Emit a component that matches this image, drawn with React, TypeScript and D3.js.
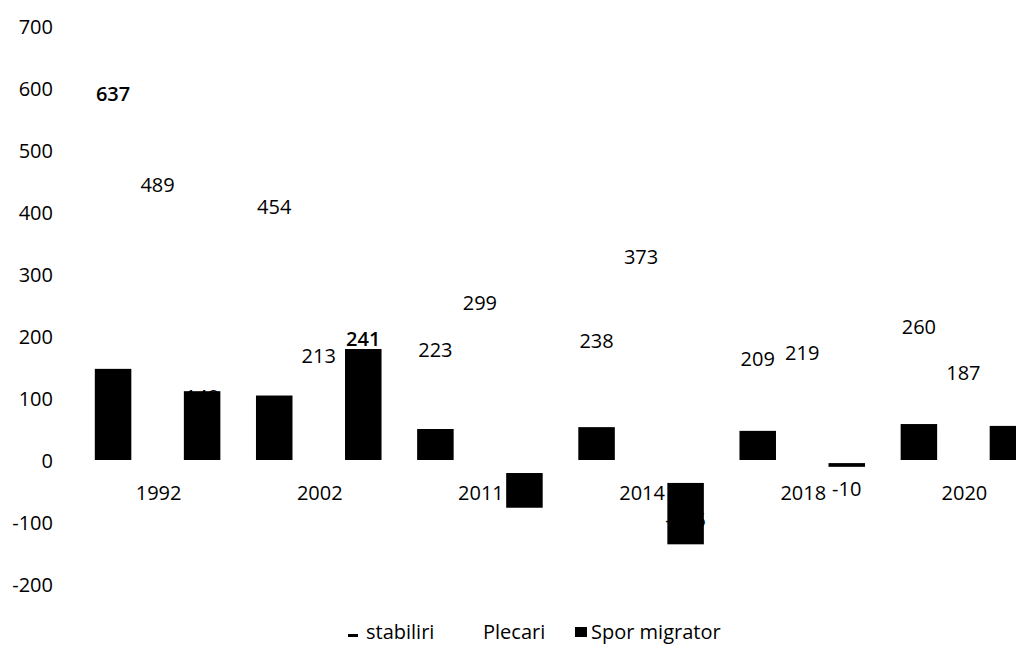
import React from 'react';
import * as d3 from 'd3';

const categories = ['1992', '2002', '2011', '2014', '2018', '2020'];
const stabiliri = [637, 454, 223, 238, 209, 260];
const plecari = [489, 213, 299, 373, 219, 187];
const sporMigrator = [148, 241, -76, -135, -10, 73];
// bar extents as they appear drawn in the picture
const stabiliriBar = [147, 104, 50, 53, 47, 58];
const sporBarFrom = [0, 0, -21, -37, -5, 0];
const sporBarTo = [111, 179, -77, -136, -11, 55];
const yTicks = [-200, -100, 0, 100, 200, 300, 400, 500, 600, 700];
const seriesNames = ['stabiliri', 'Plecari', 'Spor migrator'];

const W = 1016;
const H = 648;
const FONT = "'Open Sans', sans-serif";

export default function App() {
  const x0 = d3.scaleBand<string>().domain(categories).range([77, 1044]).padding(0);
  const x1 = d3
    .scaleBand<string>()
    .domain(seriesNames)
    .range([0, x0.bandwidth()])
    .paddingInner(0.18)
    .paddingOuter(0.4);
  const y = d3.scaleLinear().domain([-200, 700]).range([584, 26]);
  const bw = x1.bandwidth();

  const cx = (cat: string, s: string) => (x0(cat) as number) + (x1(s) as number) + bw / 2;

  const labelY = (v: number) => {
    if (v >= 0) return y(v) + 28;
    return Math.abs(v) > 50 ? y(v) - 24 : y(v) + 22;
  };

  const maxStab = d3.max(stabiliri) as number;
  const maxSpor = d3.max(sporMigrator) as number;

  const labelSeries = [
    { name: 'stabiliri', values: stabiliri, max: maxStab },
    { name: 'Plecari', values: plecari, max: Infinity },
    { name: 'Spor migrator', values: sporMigrator, max: maxSpor },
  ];

  return (
    <svg
      width={W}
      height={H}
      style={{ position: 'absolute', left: 0, top: 0, background: '#fff' }}
      fontFamily={FONT}
    >
      <rect x={0} y={0} width={W} height={H} fill="#fff" />
      {/* y axis tick labels */}
      {yTicks.map((t) => (
        <text
          key={t}
          x={53}
          y={y(t)}
          textAnchor="end"
          dominantBaseline="central"
          fontSize={20}
          fill="#000"
        >
          {t}
        </text>
      ))}
      {/* category labels */}
      {categories.map((c) => (
        <text
          key={c}
          x={(x0(c) as number) + x0.bandwidth() / 2 + 1}
          y={492}
          textAnchor="middle"
          dominantBaseline="central"
          fontSize={20}
          fill="#000"
        >
          {c}
        </text>
      ))}
      {/* data labels */}
      {labelSeries.map((s) =>
        s.values.map((v, i) => (
          <text
            key={s.name + i}
            x={cx(categories[i], s.name)}
            y={labelY(v)}
            textAnchor="middle"
            dominantBaseline="central"
            fontSize={20}
            fontWeight={v === s.max ? 600 : 400}
            fill="#000"
          >
            {v}
          </text>
        ))
      )}
      {/* stabiliri bars */}
      {stabiliriBar.map((v, i) => (
        <rect
          key={'sb' + i}
          x={cx(categories[i], 'stabiliri') - bw / 2}
          y={Math.min(y(v), y(0))}
          width={bw}
          height={Math.abs(y(v) - y(0))}
          fill="#000"
        />
      ))}
      {/* spor migrator bars */}
      {sporBarTo.map((v, i) => (
        <rect
          key={'sp' + i}
          x={cx(categories[i], 'Spor migrator') - bw / 2}
          y={Math.min(y(v), y(sporBarFrom[i]))}
          width={bw}
          height={Math.abs(y(v) - y(sporBarFrom[i]))}
          fill="#000"
        />
      ))}
      {/* legend */}
      <g fontSize={20} fill="#000">
        <rect x={348} y={634} width={10} height={3} fill="#000" />
        <text x={366} y={631} dominantBaseline="central">
          {seriesNames[0]}
        </text>
        <text x={483} y={631} dominantBaseline="central">
          {seriesNames[1]}
        </text>
        <rect x={575} y={627} width={12} height={10} fill="#000" />
        <text x={591} y={631} dominantBaseline="central">
          {seriesNames[2]}
        </text>
      </g>
    </svg>
  );
}
